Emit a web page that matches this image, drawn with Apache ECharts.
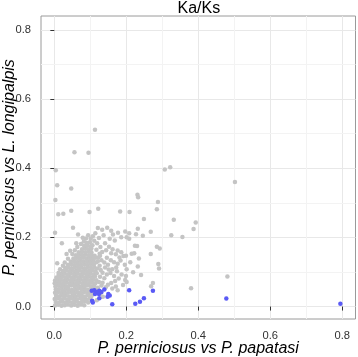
<!DOCTYPE html>
<html><head><meta charset="utf-8">
<script src="https://cdn.jsdelivr.net/npm/echarts@6/dist/echarts.min.js"></script>
<style>html,body{margin:0;padding:0;background:#fff}#c{width:358px;height:357px}</style>
</head><body><div id="c"></div>
<script>
const titleText = "Ka/Ks";
const xTitle = "P. perniciosus vs P. papatasi";
const yTitle = "P. perniciosus vs L. longipalpis";
const majorTicks = [0, 0.2, 0.4, 0.6, 0.8];
const minorTicks = [0.1, 0.3, 0.5, 0.7];
const tickLabels = ["0.0", "0.2", "0.4", "0.6", "0.8"];

// dense core of gray points
const grayCore = [
[0.002,0.003],[0.011,0.005],[0.02,0.002],[0.029,0.004],[0.038,0.006],[0.047,0.003],[0.056,0.005],[0.065,0.002],[0.074,0.006],[0.083,0.004],
[0.004,0.013],[0.013,0.012],[0.022,0.014],[0.031,0.011],[0.04,0.015],[0.049,0.012],[0.058,0.014],[0.067,0.011],[0.076,0.013],[0.085,0.015],[0.094,0.012],
[0.001,0.022],[0.009,0.024],[0.018,0.021],[0.027,0.023],[0.036,0.02],[0.045,0.024],[0.054,0.022],[0.063,0.021],[0.072,0.024],[0.081,0.022],[0.09,0.02],[0.099,0.023],
[0.005,0.031],[0.014,0.03],[0.023,0.033],[0.032,0.031],[0.041,0.029],[0.05,0.032],[0.059,0.03],[0.068,0.033],[0.077,0.031],[0.086,0.029],[0.095,0.032],[0.103,0.03],
[0.002,0.04],[0.011,0.042],[0.02,0.039],[0.029,0.041],[0.038,0.04],[0.047,0.042],[0.056,0.039],[0.065,0.041],[0.074,0.04],[0.083,0.042],[0.092,0.039],[0.101,0.041],[0.108,0.038],
[0.004,0.049],[0.013,0.05],[0.022,0.048],[0.031,0.051],[0.04,0.049],[0.049,0.048],[0.058,0.05],[0.067,0.052],[0.076,0.049],[0.085,0.051],[0.094,0.048],[0.103,0.05],[0.11,0.052],
[0.003,0.058],[0.012,0.06],[0.021,0.057],[0.03,0.059],[0.039,0.058],[0.048,0.061],[0.057,0.058],[0.066,0.06],[0.075,0.057],[0.084,0.059],[0.093,0.061],[0.102,0.058],[0.111,0.06],
[0.001,0.067],[0.006,0.067],[0.015,0.068],[0.024,0.066],[0.033,0.069],[0.042,0.067],[0.051,0.068],[0.06,0.066],[0.069,0.069],[0.078,0.067],[0.087,0.068],[0.096,0.066],[0.105,0.069],[0.114,0.067],
[0.002,0.075],[0.009,0.076],[0.018,0.077],[0.027,0.075],[0.036,0.078],[0.045,0.076],[0.054,0.077],[0.063,0.075],[0.072,0.078],[0.081,0.076],[0.09,0.077],[0.099,0.075],[0.108,0.078],[0.117,0.076],
[0.006,0.084],[0.014,0.085],[0.023,0.086],[0.032,0.084],[0.041,0.087],[0.05,0.085],[0.059,0.086],[0.068,0.084],[0.077,0.087],[0.086,0.085],[0.095,0.086],[0.104,0.084],[0.113,0.087],
[0.012,0.092],[0.019,0.094],[0.028,0.095],[0.037,0.093],[0.046,0.096],[0.055,0.094],[0.064,0.095],[0.073,0.093],[0.082,0.096],[0.091,0.094],[0.1,0.095],[0.109,0.093],[0.118,0.096],
[0.024,0.103],[0.033,0.104],[0.042,0.102],[0.051,0.105],[0.06,0.103],[0.069,0.104],[0.078,0.102],[0.087,0.105],[0.096,0.103],[0.105,0.104],[0.114,0.102],
[0.03,0.112],[0.039,0.113],[0.048,0.111],[0.057,0.114],[0.066,0.112],[0.075,0.113],[0.084,0.111],[0.093,0.114],[0.102,0.112],[0.111,0.113],[0.119,0.11],
[0.038,0.121],[0.047,0.122],[0.056,0.12],[0.065,0.123],[0.074,0.121],[0.083,0.122],[0.092,0.12],[0.101,0.123],[0.11,0.121],
[0.046,0.13],[0.055,0.131],[0.064,0.129],[0.073,0.132],[0.082,0.13],[0.091,0.131],[0.1,0.129],[0.108,0.132],[0.117,0.128],
[0.053,0.139],[0.062,0.14],[0.071,0.138],[0.08,0.141],[0.089,0.139],[0.098,0.14],[0.106,0.138],[0.114,0.141],
[0.06,0.148],[0.069,0.149],[0.078,0.147],[0.087,0.15],[0.096,0.148],[0.104,0.149],[0.112,0.147],
[0.068,0.157],[0.077,0.158],[0.086,0.156],[0.095,0.159],[0.103,0.157],
[0.077,0.166],[0.086,0.167],[0.095,0.165],[0.103,0.168],
[0.083,0.175],[0.092,0.176],[0.101,0.174],
[0.09,0.184],[0.099,0.186]
];

// sparser gray fringe around the core
const grayFringe = [
[0.121,0.227],[0.133,0.222],[0.147,0.228],[0.158,0.219],[0.107,0.203],[0.124,0.198],[0.137,0.206],[0.154,0.196],
[0.168,0.191],[0.186,0.2],[0.177,0.213],[0.163,0.208],[0.141,0.183],[0.152,0.173],[0.162,0.166],[0.176,0.162],
[0.186,0.157],[0.192,0.146],[0.171,0.151],[0.158,0.154],[0.144,0.163],[0.128,0.172],[0.119,0.183],[0.111,0.19],
[0.101,0.196],[0.088,0.197],[0.106,0.177],[0.117,0.164],[0.126,0.153],[0.133,0.158],[0.146,0.141],[0.157,0.134],
[0.166,0.128],[0.176,0.124],[0.184,0.133],[0.196,0.121],[0.181,0.142],[0.172,0.113],[0.161,0.108],[0.149,0.121],
[0.139,0.127],[0.131,0.134],[0.122,0.142],[0.127,0.147],[0.074,0.181],[0.082,0.188],[0.064,0.172],[0.057,0.163],
[0.094,0.206],[0.079,0.199],[0.061,0.183],[0.034,0.152],[0.021,0.183],[0.066,0.208],[0.156,0.097],[0.166,0.088],
[0.174,0.102],[0.187,0.093],[0.179,0.081],[0.169,0.074],[0.158,0.068],[0.149,0.063],[0.139,0.082],[0.146,0.093],
[0.134,0.098],[0.151,0.107],[0.129,0.106],[0.141,0.113],[0.171,0.058],[0.161,0.052],[0.143,0.056],[0.176,0.047],
[0.191,0.062],[0.199,0.088],[0.211,0.128],[0.219,0.099],[0.241,0.091],[0.127,0.086],[0.124,0.071],[0.131,0.061],
[0.121,0.054],[0.134,0.069],[0.126,0.118],[0.121,0.131],[0.029,0.127],[0.016,0.108],[0.044,0.161],[0.114,0.212],
[0.012,0.098],[0.024,0.118],[0.038,0.138],[0.05,0.152],[0.008,0.125],[0.128,0.037],[0.135,0.028],[0.118,0.018]
];

// isolated gray points
const grayOutliers = [
[0.004,0.394],[0.056,0.446],[0.095,0.445],[0.113,0.511],[0.307,0.396],[0.322,0.403],[0.502,0.360],[0.393,0.243],
[0.387,0.224],[0.356,0.201],[0.481,0.087],[0.380,0.053],[0.008,0.351],[0.047,0.341],[0.003,0.308],[0.122,0.283],
[0.231,0.323],[0.233,0.316],[0.288,0.302],[0.285,0.281],[0.249,0.253],[0.332,0.251],[0.232,0.225],[0.208,0.212],
[0.197,0.217],[0.227,0.209],[0.246,0.205],[0.268,0.216],[0.325,0.206],[0.201,0.200],[0.208,0.196],[0.224,0.176],
[0.230,0.175],[0.285,0.173],[0.293,0.168],[0.215,0.153],[0.222,0.154],[0.199,0.147],[0.268,0.152],[0.235,0.139],
[0.289,0.123],[0.232,0.116],[0.291,0.110],[0.201,0.108],[0.197,0.077],[0.201,0.071],[0.274,0.068],[0.269,0.059],
[0.011,0.267],[0.025,0.268],[0.047,0.277],[0.098,0.273],[0.183,0.275],[0.209,0.273],[0.052,0.228],[0.002,0.213]
];

// highlighted (blue) points
const bluePoints = [
[0.104,0.046],[0.111,0.047],[0.118,0.043],[0.125,0.046],[0.131,0.042],[0.139,0.049],[0.113,0.036],[0.124,0.036],
[0.125,0.024],[0.150,0.036],[0.154,0.032],[0.148,0.028],[0.105,0.017],[0.107,0.012],[0.161,0.007],[0.208,0.047],
[0.274,0.046],[0.249,0.024],[0.238,0.014],[0.225,0.008],[0.478,0.023],[0.795,0.008]
];

const grayAll = grayCore.concat(grayFringe, grayOutliers);
const FONT = "Liberation Sans, Arial, Helvetica, sans-serif";
const labelFmt = v => tickLabels[majorTicks.indexOf(Math.round(v*10)/10)] || "";

function axisCommon(min, max) {
  return {
    type: 'value', min: min, max: max,
    axisLine: {show: false},
    axisTick: {show: true, customValues: majorTicks, length: 4, lineStyle: {color: '#333', width: 1}},
    axisLabel: {show: true, customValues: majorTicks, formatter: labelFmt, color: '#333', fontSize: 11.2, fontFamily: FONT},
    splitLine: {show: false},
    nameMoveOverlap: false
  };
}

const chart = echarts.init(document.getElementById('c'), null, {renderer: 'canvas'});
const xa = axisCommon(-0.037, 0.837);
Object.assign(xa, {name: xTitle, nameLocation: 'middle', nameGap: 21.5,
  nameTextStyle: {fontStyle: 'italic', fontSize: 16, color: '#000', fontFamily: FONT}});
xa.axisLabel.margin = 11;
const ya = axisCommon(-0.036, 0.84);
Object.assign(ya, {name: yTitle, nameLocation: 'middle', nameGap: 23,
  nameTextStyle: {fontStyle: 'italic', fontSize: 16, color: '#000', fontFamily: FONT}});
ya.axisLabel.margin = 10;

const lineData = [];
majorTicks.forEach(v => { lineData.push({xAxis: v, lineStyle: {color: '#e8e8e8'}}); lineData.push({yAxis: v, lineStyle: {color: '#e8e8e8'}}); });
minorTicks.forEach(v => { lineData.push({xAxis: v, lineStyle: {color: '#f3f3f3'}}); lineData.push({yAxis: v, lineStyle: {color: '#f3f3f3'}}); });

chart.setOption({
  animation: false,
  backgroundColor: '#fff',
  title: {text: titleText, left: 177.5, top: 0.5, padding: 0,
    textStyle: {fontSize: 16, fontWeight: 'normal', color: '#000', fontFamily: FONT}},
  grid: {left: 41, right: 2.5, top: 16, bottom: 38, show: true, borderColor: '#9a9a9a', borderWidth: 1, backgroundColor: '#fff',
    containLabel: false, outerBoundsMode: 'none'},
  xAxis: xa,
  yAxis: ya,
  series: [
    {type: 'scatter', data: [], z: 1, silent: true,
     markLine: {silent: true, symbol: 'none', z: 0, label: {show: false}, animation: false,
       lineStyle: {type: 'solid', width: 1}, data: lineData}},
    {type: 'scatter', data: grayAll, symbolSize: 4.5, z: 2, silent: true,
     itemStyle: {color: '#c4c4c4', opacity: 1}},
    {type: 'scatter', data: bluePoints, symbolSize: 4.5, z: 3, silent: true,
     itemStyle: {color: '#5a5af5', opacity: 1}}
  ]
});
</script></body></html>
